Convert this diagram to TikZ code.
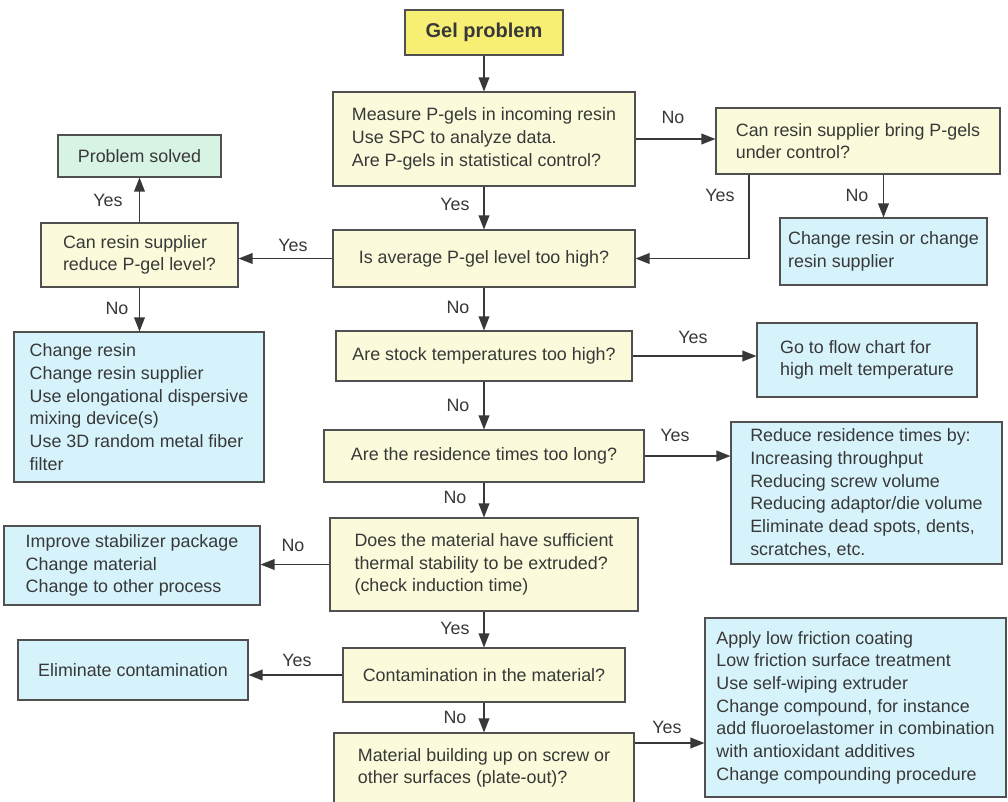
\documentclass[tikz,border=0pt]{standalone}
\usepackage{fontspec}
\setmainfont{Liberation Sans}
\usetikzlibrary{arrows.meta}
\definecolor{cream}{HTML}{FBFADA}
\definecolor{bluebox}{HTML}{D6F3FB}
\definecolor{mint}{HTML}{D7F3E4}
\definecolor{gelyellow}{HTML}{F6EF73}
\definecolor{ink}{HTML}{383838}
\definecolor{edgecol}{HTML}{505050}
\newcommand\bx[7]{\node[#6, minimum width={(#4-#2)*0.75pt}, minimum height={(#5-#3)*0.75pt}] (#1) at ({(#2+#4)/2},{(#3+#5)/2}) {#7};}
\begin{document}
\begin{tikzpicture}[x=0.75pt, y=-0.75pt,
  font=\fontsize{13.4}{17}\selectfont,
  box/.style={draw=edgecol, line width=0.8pt, inner sep=2pt, align=left, text=ink},
  q/.style={box, fill=cream},
  act/.style={box, fill=bluebox},
  arr/.style={draw=ink, line width=1.1pt, -{Triangle[length=10.5pt,width=8pt]}},
  lbl/.style={text=ink, inner sep=0pt}]
\fill[white] (0,0) rectangle (1008,801);
\useasboundingbox (0,0) rectangle (1008,801);

\bx{gel}{405}{10}{563}{55}{box,fill=gelyellow,font=\bfseries\fontsize{15}{18}\selectfont}{Gel problem}
\bx{measure}{333}{92}{635}{186}{q}{Measure P-gels in incoming resin\\Use SPC to analyze data.\\Are P-gels in statistical control?}
\bx{bring}{716}{108}{1000}{174}{q}{Can resin supplier bring P-gels\\under control?}
\bx{changeor}{780}{218}{987}{285}{act}{Change resin or change\\resin supplier}
\bx{solved}{58}{135}{221}{177}{box,fill=mint}{Problem solved}
\bx{reduce}{41}{223}{238}{287}{q}{Can resin supplier\\reduce P-gel level?}
\bx{average}{333}{230}{635}{287}{q}{Is average P-gel level too high?}
\bx{changeresin}{14}{332}{264}{482}{act}{Change resin\\Change resin supplier\\Use elongational dispersive\\mixing device(s)\\Use 3D random metal fiber\\filter}
\bx{stock}{336}{331}{632}{381}{q}{Are stock temperatures too high?}
\bx{goto}{757}{323}{977}{397}{act}{Go to flow chart for\\high melt temperature}
\bx{residence}{324}{430}{644}{482}{q}{Are the residence times too long?}
\bx{reducerest}{731}{422}{1002}{564}{act}{Reduce residence times by:\\Increasing throughput\\Reducing screw volume\\Reducing adaptor/die volume\\Eliminate dead spots, dents,\\scratches, etc.}
\bx{thermal}{330}{518}{638}{611}{q}{Does the material have sufficient\\thermal stability to be extruded?\\(check induction time)}
\bx{improve}{4}{526}{260}{605}{act}{Improve stabilizer package\\Change material\\Change to other process}
\bx{contam}{343}{648}{625}{702}{q}{Contamination in the material?}
\bx{eliminate}{18}{640}{248}{700}{act}{Eliminate contamination}
\bx{material}{334}{733}{634}{803}{q}{Material building up on screw or\\other surfaces (plate-out)?}
\bx{apply}{705}{618}{1006}{797}{act}{Apply low friction coating\\Low friction surface treatment\\Use self-wiping extruder\\Change compound, for instance\\add fluoroelastomer in combination\\with antioxidant additives\\Change compounding procedure}

% connectors
\draw[arr] (gel.south) -- (gel.south |- measure.north);
\draw[arr] (measure.east) -- (measure.east -| bring.west);
\coordinate (byes) at (749,0);
\draw[arr] (bring.south -| byes) |- (average.east);
\draw[arr] (bring.south -| changeor.north) -- (changeor.north);
\draw[arr] (measure.south) -- (measure.south |- average.north);
\draw[arr] (average.west) -- (average.west -| reduce.east);
\draw[arr] (reduce.north) -- (reduce.north |- solved.south);
\draw[arr] (reduce.south) -- (reduce.south |- changeresin.north);
\draw[arr] (average.south) -- (average.south |- stock.north);
\draw[arr] (stock.east) -- (stock.east -| goto.west);
\draw[arr] (stock.south) -- (stock.south |- residence.north);
\draw[arr] (residence.east) -- (residence.east -| reducerest.west);
\draw[arr] (residence.south) -- (residence.south |- thermal.north);
\draw[arr] (thermal.west) -- (thermal.west -| improve.east);
\draw[arr] (thermal.south) -- (thermal.south |- contam.north);
\draw[arr] (contam.west) -- (contam.west -| eliminate.east);
\draw[arr] (contam.south) -- (contam.south |- material.north);
\path ([yshift=18.75pt]material.east) coordinate (m1);
\draw[arr] (m1) -- (m1 -| apply.west);

% labels
\node[lbl] (l1) at (673,117) {No};
\node[lbl] (l2) at (720,195) {Yes};
\node[lbl] (l3) at (857,195) {No};
\node[lbl] (l4) at (455,204) {Yes};
\node[lbl] (l5) at (293,245) {Yes};
\node[lbl] (l6) at (108,200) {Yes};
\node[lbl] (l7) at (117,308) {No};
\node[lbl] (l8) at (458,307) {No};
\node[lbl] (l9) at (693,337) {Yes};
\node[lbl] (l10) at (458,405) {No};
\node[lbl] (l11) at (675,435) {Yes};
\node[lbl] (l12) at (455,497) {No};
\node[lbl] (l13) at (293,545) {No};
\node[lbl] (l14) at (455,628) {Yes};
\node[lbl] (l15) at (297,660) {Yes};
\node[lbl] (l16) at (455,717) {No};
\node[lbl] (l17) at (667,727) {Yes};
\end{tikzpicture}
\end{document}
